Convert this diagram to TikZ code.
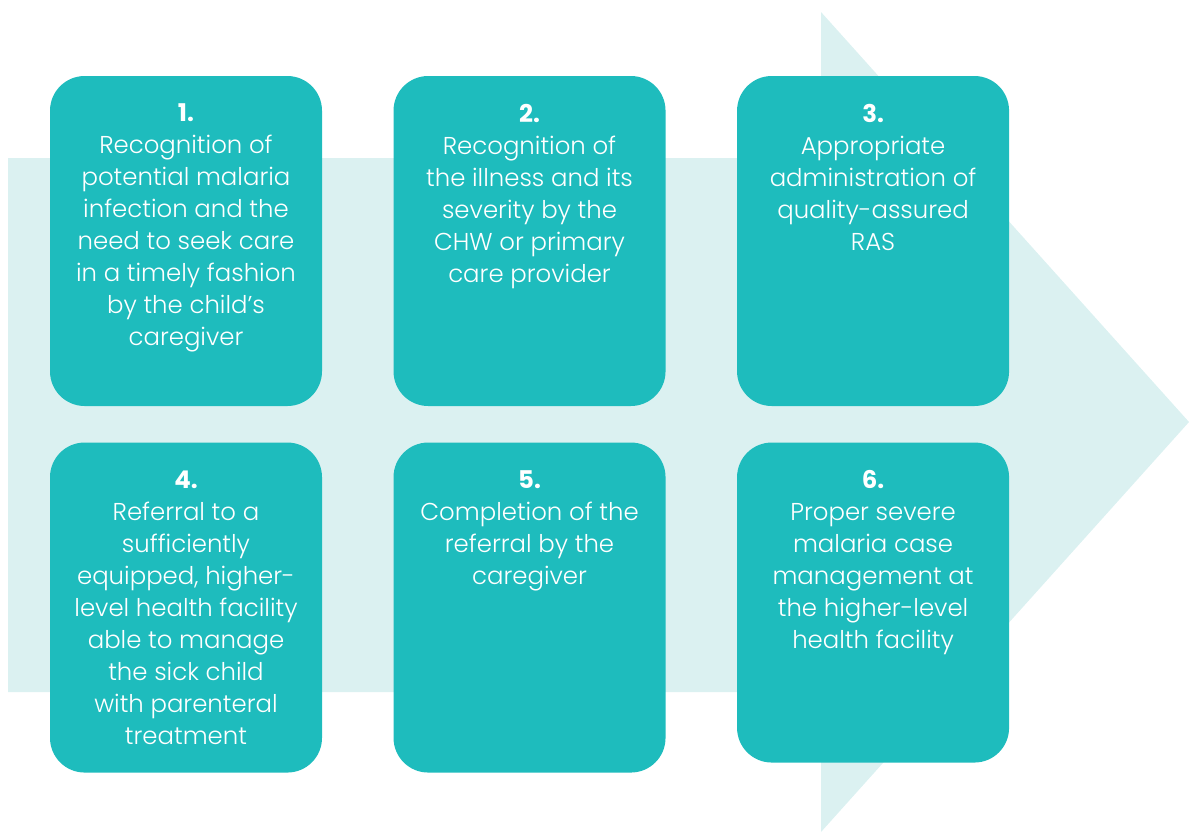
\documentclass[tikz,border=0pt]{standalone}
\usepackage{fontspec}
\setmainfont{Poppins Light}[BoldFont=Poppins Bold]
\usetikzlibrary{positioning}
\definecolor{bandcol}{HTML}{DBF1F1}
\definecolor{boxcol}{HTML}{1EBCBD}
\tikzset{
    stepbox/.style={fill=boxcol, rounded corners=26pt, minimum width=204pt, minimum height=247.5pt, inner sep=0pt},
    steptext/.style={text=white, align=center, inner sep=0pt, font=\fontsize{18.3pt}{24pt}\selectfont}
}
\begin{document}
\begin{tikzpicture}[x=0.75pt,y=-0.75pt]
                    \useasboundingbox (0,0) rectangle (1189,833);
                    \fill[bandcol] (8,158) -- (821,158) -- (821,12) -- (1189,422) -- (821,832) -- (821,692) -- (8,692) -- cycle;
                    \node[stepbox] (box1) at (186,241) {};
                    \node[stepbox, right=53.25pt of box1] (box2) {};
                    \node[stepbox, right=53.25pt of box2] (box3) {};
                    \node[stepbox, below=27pt of box1] (box4) {};
                    \node[stepbox, below=27pt of box2] (box5) {};
                    \node[stepbox, below=27pt of box3, minimum height=240pt] (box6) {};
                    \node[steptext, below=21pt of box1.north] (txt1) {\textbf{1.}\\Recognition of\\potential malaria\\infection and the\\need to seek care\\in a timely fashion\\by the child’s\\caregiver};
                    \node[steptext, below=21pt of box2.north] (txt2) {\textbf{2.}\\Recognition of\\the illness and its\\severity by the\\CHW or primary\\care provider};
                    \node[steptext, below=21pt of box3.north] (txt3) {\textbf{3.}\\Appropriate\\administration of\\quality-assured\\RAS};
                    \node[steptext, below=21pt of box4.north] (txt4) {\textbf{4.}\\Referral to a\\sufficiently\\equipped, higher-\\level health facility\\able to manage\\the sick child\\with parenteral\\treatment};
                    \node[steptext, below=21pt of box5.north] (txt5) {\textbf{5.}\\Completion of the\\referral by the\\caregiver};
                    \node[steptext, below=21pt of box6.north] (txt6) {\textbf{6.}\\Proper severe\\malaria case\\management at\\the higher-level\\health facility};
                \end{tikzpicture}
\end{document}
